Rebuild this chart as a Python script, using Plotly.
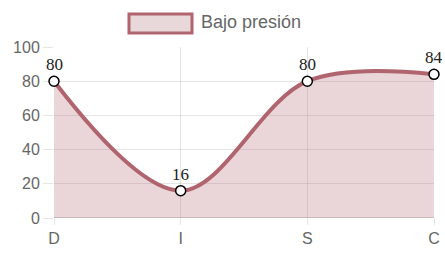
import plotly.graph_objects as go

categories = ["D", "I", "S", "C"]
values = [80, 16, 80, 84]
series_name = "Bajo presión"
y_ticks = [0, 20, 40, 60, 80, 100]

line_color = "rgb(176,100,110)"
fill_color = "rgba(176,100,110,0.27)"

fig = go.Figure()
fig.add_trace(go.Scatter(
    x=categories, y=values, name=series_name,
    mode="lines+markers",
    line=dict(shape="spline", smoothing=1.0, color=line_color, width=4),
    fill="tozeroy", fillcolor=fill_color,
    marker=dict(size=10, color="white", line=dict(color="black", width=1.5)),
    cliponaxis=False, showlegend=False,
))

for c, v in zip(categories, values):
    fig.add_annotation(x=c, y=v, text=str(v), showarrow=False, yanchor="bottom",
                       yshift=5,
                       font=dict(family="Liberation Serif, Times New Roman, serif", size=17, color="#222"))

# legend drawn as box + label
fig.add_shape(type="rect", xref="paper", yref="paper",
              x0=(129 - 54) / 380, x1=(192 - 54) / 380,
              y0=(218 - 33) / 171, y1=(218 - 14) / 171,
              line=dict(color=line_color, width=3), fillcolor="rgb(233,216,218)")
fig.add_annotation(xref="paper", yref="paper", x=(199 - 54) / 380, y=(218 - 22) / 171,
                   text=series_name, showarrow=False, xanchor="left", yanchor="middle",
                   font=dict(family="Liberation Sans, Arial, sans-serif", size=18, color="#666"))

fig.update_layout(
    width=445, height=261,
    margin=dict(l=54, r=11, t=47, b=43, autoexpand=False),
    paper_bgcolor="white", plot_bgcolor="white",
    font=dict(family="Liberation Sans, Arial, sans-serif", size=16, color="#666"),
)
fig.update_xaxes(type="category", range=[0, 3], showgrid=True, gridcolor="rgba(0,0,0,0.1)",
                 ticks="outside", ticklen=6, tickcolor="rgba(0,0,0,0.1)", automargin=False,
                 showline=False, zeroline=False, tickfont=dict(size=16, color="#666"))
fig.update_yaxes(range=[0, 100], tickvals=y_ticks, showgrid=True, gridcolor="rgba(0,0,0,0.1)",
                 ticks="outside", ticklen=10, tickcolor="rgba(0,0,0,0.1)", automargin=False,
                 zeroline=False, showline=False, tickfont=dict(size=16, color="#666"))
fig.add_shape(type="line", xref="paper", yref="y", x0=0, x1=1, y0=0, y1=0,
              line=dict(color="rgba(0,0,0,0.25)", width=1), layer="above")

fig.write_html("out.html")
